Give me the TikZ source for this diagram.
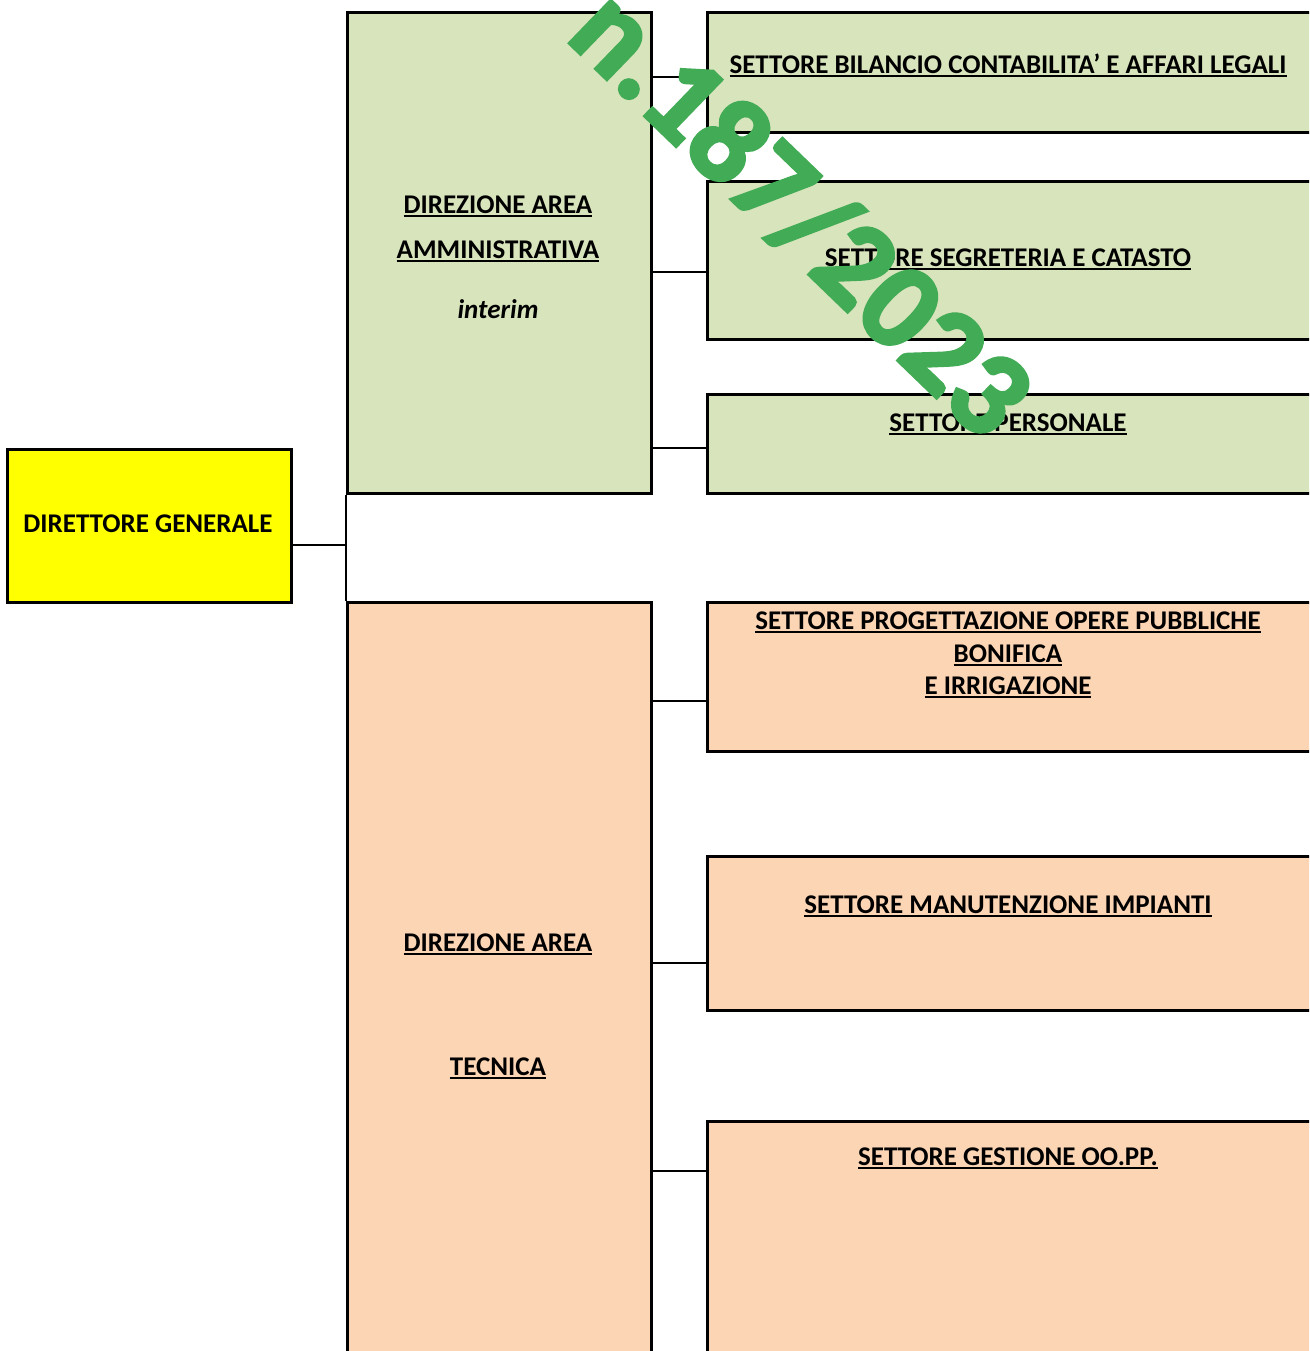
\documentclass[tikz,border=0pt]{standalone}
\usepackage{fontspec}
\setmainfont{Carlito}
\newfontfamily\wmfont[FakeBold=3]{Carlito Bold}
\definecolor{areagreen}{HTML}{D8E4BC}
\definecolor{areapeach}{HTML}{FCD5B4}
\definecolor{wmgreen}{HTML}{41AB55}
\definecolor{dgyellow}{HTML}{FFFF00}
\newcommand\myul[1]{\setbox0\hbox{#1}\rlap{\rule[-3.8pt]{\wd0}{1.8pt}}\box0}
\begin{document}
\begin{tikzpicture}[x=1pt,y=-1pt,
  boxstyle/.style={draw=black, line width=2.6pt, inner sep=0pt, anchor=north west},
  conn/.style={draw=black, line width=1.6pt},
  lbl/.style={font=\fontsize{27}{32}\selectfont\bfseries, align=center, inner sep=0pt, yshift=-2.5pt},
  wm/.style={font=\fontsize{122}{122}\wmfont\selectfont, text=wmgreen, inner sep=0pt}]
\useasboundingbox (0,0) rectangle (1309,1351);
\clip (0,0) rectangle (1309,1351);
% boxes
\node[boxstyle, fill=dgyellow, minimum width=284pt, minimum height=153pt] (dg) at (6,448) {};
\node[boxstyle, fill=areagreen, minimum width=304pt, minimum height=481pt] (amm) at (346,11) {};
\node[boxstyle, fill=areapeach, minimum width=304pt, minimum height=800pt] (tec) at (346,601) {};
\node[boxstyle, fill=areagreen, minimum width=700pt, minimum height=120pt] (s1) at (706,11) {};
\node[boxstyle, fill=areagreen, minimum width=700pt, minimum height=158pt] (s2) at (706,180) {};
\node[boxstyle, fill=areagreen, minimum width=700pt, minimum height=99pt] (s3) at (706,393) {};
\node[boxstyle, fill=areapeach, minimum width=700pt, minimum height=149pt] (s4) at (706,601) {};
\node[boxstyle, fill=areapeach, minimum width=700pt, minimum height=154pt] (s5) at (706,855) {};
\node[boxstyle, fill=areapeach, minimum width=700pt, minimum height=400pt] (s6) at (706,1120) {};
% connectors
\coordinate (cdg) at (0,545);
\coordinate (c1) at (0,77);
\coordinate (c2) at (0,272);
\coordinate (c3) at (0,448);
\coordinate (c4) at (0,701);
\coordinate (c5) at (0,963);
\coordinate (c6) at (0,1171);
\draw[conn] (amm.south west) -- (tec.north west);
\draw[conn] (dg.east |- cdg) -- (amm.west |- cdg);
\draw[conn] (amm.east |- c1) -- (s1.west |- c1);
\draw[conn] (amm.east |- c2) -- (s2.west |- c2);
\draw[conn] (amm.east |- c3) -- (s3.west |- c3);
\draw[conn] (tec.east |- c4) -- (s4.west |- c4);
\draw[conn] (tec.east |- c5) -- (s5.west |- c5);
\draw[conn] (tec.east |- c6) -- (s6.west |- c6);
% labels
\node[lbl] (tdg) at (148,521) {DIRETTORE GENERALE};
\node[lbl] (ta1) at (498,204) {\myul{DIREZIONE AREA}};
\node[lbl] (ta2) at (498,249) {\myul{AMMINISTRATIVA}};
\node[lbl] (ta3) at (498,307) {\itshape interim};
\node[lbl] (tt1) at (498,942) {\myul{DIREZIONE AREA}};
\node[lbl] (tt2) at (498,1066) {\myul{TECNICA}};
\node[lbl] (ts1) at (1008,63) {\myul{SETTORE BILANCIO CONTABILITA' E AFFARI LEGALI}};
\node[lbl] (ts2) at (1008,257) {\myul{SETTORE SEGRETERIA E CATASTO}};
\node[lbl] (ts3) at (1008,422) {\myul{SETTORE PERSONALE}};
\node[lbl] (ts4a) at (1008,620) {\myul{SETTORE PROGETTAZIONE OPERE PUBBLICHE}};
\node[lbl] (ts4b) at (1008,653) {\myul{BONIFICA}};
\node[lbl] (ts4c) at (1008,685) {\myul{E IRRIGAZIONE}};
\node[lbl] (ts5) at (1008,904) {\myul{SETTORE MANUTENZIONE IMPIANTI}};
\node[lbl] (ts6) at (1008,1156) {\myul{SETTORE GESTIONE OO.PP.}};
% watermark
\node[wm, rotate=-44] (wmk) at (802,212) {n.187/2023};
\end{tikzpicture}
\end{document}
